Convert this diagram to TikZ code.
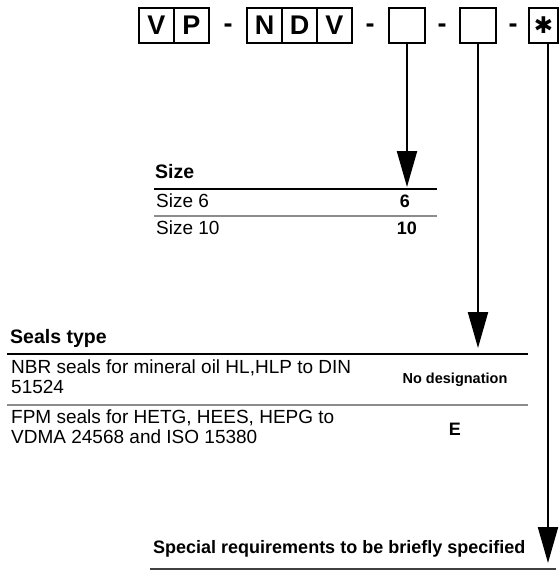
\documentclass[tikz,border=0pt]{standalone}
\usepackage{fontspec}
\setmainfont{Liberation Sans}
\newfontfamily\symfont{DejaVu Sans}
\usetikzlibrary{positioning, arrows.meta}

\begin{document}
\begin{tikzpicture}[x=1pt, y=-1pt, >={Triangle[width=20pt,length=36pt]}]
    \tikzstyle{codebox} = [draw, line width=1.6pt, outer sep=0pt, inner sep=0pt, minimum width=35pt, minimum height=35pt, font=\fontsize{27}{27}\selectfont\bfseries]
    \tikzstyle{blankbox} = [codebox, minimum width=36pt]
    \tikzstyle{sepmark} = [inner sep=0pt, font=\fontsize{27}{27}\selectfont\bfseries]
    \tikzstyle{headtxt} = [anchor=base west, inner sep=0pt, font=\fontsize{19.5}{21}\selectfont\bfseries]
    \tikzstyle{rowtxt} = [anchor=north west, inner sep=0pt, align=left, font=\fontsize{19}{20}\selectfont]
    \tikzstyle{codetxt} = [anchor=base, inner sep=0pt, font=\fontsize{18}{20}\selectfont\bfseries]
    \tikzstyle{thickrule} = [line width=2.5pt]
    \tikzstyle{thinrule} = [line width=1.2pt, black!45]
    \tikzstyle{pointer} = [->, line width=2.2pt]

    \useasboundingbox (0,0) rectangle (560,571);

    % Codice di ordinazione
    \node[codebox] (v) at (156.5,25.5) {V};
    \node[codebox, right=0pt of v] (p) {P};
    \node[sepmark] (s1) at (228,28) {-};
    \node[codebox] (n) at (264.5,25.5) {N};
    \node[codebox, right=0pt of n] (d) {D};
    \node[codebox, right=0pt of d] (v2) {V};
    \node[sepmark] (s2) at (370,28) {-};
    \node[blankbox] (b1) at (407,25.5) {};
    \node[sepmark] (s3) at (442,28) {-};
    \node[blankbox] (b2) at (478,25.5) {};
    \node[sepmark] (s4) at (513,28) {-};
    \node[codebox, minimum width=29pt, font=\symfont\fontsize{23}{23}\selectfont] (sb) at (543.5,25.5) {✱};

    % Frecce
    \coordinate (t1) at (407,187);
    \coordinate (t2) at (478,348);
    \coordinate (t3) at (548,563);
    \draw[pointer] (b1) -- (t1);
    \draw[pointer] (b2) -- (t2);
    \draw[pointer] (sb.south -| t3) -- (t3);

    % Tabella grandezza
    \node[headtxt] (sizehd) at (155,178) {Size};
    \draw[thickrule] (154,189) -- (437,189);
    \node[rowtxt, anchor=base west] (size6) at (156,207) {Size 6};
    \node[codetxt] (c6) at (405,207) {6};
    \draw[thinrule] (154,216) -- (437,216);
    \node[rowtxt, anchor=base west] (size10) at (156,234) {Size 10};
    \node[codetxt] (c10) at (407,234) {10};

    % Tabella guarnizioni
    \node[headtxt] (sealhd) at (10,343) {Seals type};
    \draw[thickrule] (7,354) -- (528,354);
    \node[rowtxt] (nbr) at (11,359.5) {NBR seals for mineral oil HL,HLP to DIN\\51524};
    \node[codetxt, font=\fontsize{14.5}{16}\selectfont\bfseries] (cnbr) at (455,383) {No designation};
    \draw[thinrule] (7,405) -- (528,405);
    \node[rowtxt] (fpm) at (11,409.5) {FPM seals for HETG, HEES, HEPG to\\VDMA 24568 and ISO 15380};
    \node[codetxt] (cfpm) at (455,435) {E};

    % Richieste speciali
    \node[headtxt, font=\fontsize{18}{20}\selectfont\bfseries] (spec) at (153,553) {Special requirements to be briefly specified};
    \draw[line width=1.5pt, black!75] (150,569) -- (556,569);
\end{tikzpicture}
\end{document}
